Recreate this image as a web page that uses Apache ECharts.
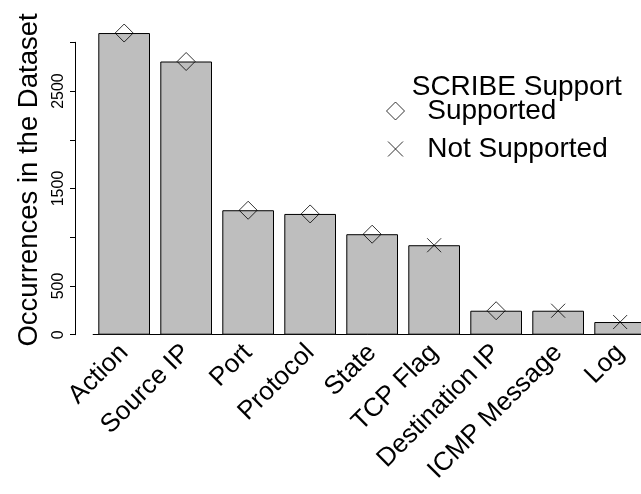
<!DOCTYPE html>
<html><head><meta charset="utf-8">
<script src="https://cdn.jsdelivr.net/npm/echarts@6/dist/echarts.min.js"></script>
<style>html,body{margin:0;padding:0;background:#fff}#c{width:641px;height:494px}</style>
</head><body><div id="c"></div>
<script>
const categories = ['Action', 'Source IP', 'Port', 'Protocol', 'State', 'TCP Flag', 'Destination IP', 'ICMP Message', 'Log'];
const occurrences = [3095, 2803, 1277, 1239, 1031, 918, 246, 246, 130];
const supported = [true, true, true, true, true, false, true, false, false];
const yTickValues = [0, 500, 1000, 1500, 2000, 2500, 3000];
const yTickLabels = ['0', '500', '', '1500', '', '2500', ''];
const legendTitle = 'SCRIBE Support';
const legendLabels = ['Supported', 'Not Supported'];
const yAxisTitle = 'Occurrences in the Dataset';

const FONT = '"Liberation Sans", Arial, Helvetica, sans-serif';
const supportedData = occurrences.map((v, i) => supported[i] ? v : null);
const notSupportedData = occurrences.map((v, i) => supported[i] ? null : v);
const crossPath = 'path://M0,0L14,14M14,0L0,14';
const crossLegend = 'path://M0,0M18,18M1.5,1.5L16.5,16.5M16.5,1.5L1.5,16.5';
const hollow = {color: 'transparent', borderColor: '#000', borderWidth: 1};

const chart = echarts.init(document.getElementById('c'), null, {renderer: 'canvas'});
chart.setOption({
  animation: false,
  backgroundColor: '#fff',
  textStyle: {fontFamily: FONT},
  title: {
    text: legendTitle, left: 411.7, top: 73, padding: 0,
    textStyle: {fontSize: 28, fontWeight: 'normal', color: '#000', fontFamily: FONT, lineHeight: 28}
  },
  legend: {
    orient: 'vertical', left: 386, top: 97, padding: 0,
    itemWidth: 18, itemHeight: 18, itemGap: 10,
    textStyle: {fontSize: 28, color: '#000', fontFamily: FONT, lineHeight: 28, padding: [0, 0, 0, 17.7]},
    data: [
      {name: legendLabels[0], icon: 'diamond', itemStyle: hollow},
      {name: legendLabels[1], icon: crossLegend, itemStyle: hollow}
    ]
  },
  grid: {left: 93.15, top: 42.3, width: 558, height: 292.4, containLabel: false, outerBoundsMode: 'none'},
  xAxis: {
    type: 'category', data: categories,
    axisTick: {show: false},
    axisLine: {show: true, lineStyle: {color: '#000', width: 1}},
    axisLabel: {rotate: 45, fontSize: 26, color: '#000', margin: 14, interval: 0, fontFamily: FONT,
                hideOverlap: false, padding: [6, 0, 0, 0]},
    splitLine: {show: false}
  },
  yAxis: {
    type: 'value', min: 0, max: 3000, interval: 500, offset: 18.15,
    axisLine: {show: true, lineStyle: {color: '#000', width: 1}},
    axisTick: {show: true, length: 5, lineStyle: {color: '#000'}},
    axisLabel: {
      rotate: 90, fontSize: 16, color: '#000', margin: 8, fontFamily: FONT,
      formatter: v => { const k = yTickValues.indexOf(v); return k >= 0 ? yTickLabels[k] : ''; }
    },
    splitLine: {show: false},
    name: yAxisTitle, nameLocation: 'middle', nameGap: 31,
    nameTextStyle: {fontSize: 27.5, color: '#000', fontFamily: FONT, padding: [0, 0, 0, 17]}
  },
  series: [
    {type: 'bar', data: occurrences, barWidth: 51.7, clip: false, silent: true,
     itemStyle: {color: '#bebebe', borderColor: '#000', borderWidth: 1}},
    {type: 'scatter', name: legendLabels[0], data: supportedData, symbol: 'diamond', symbolSize: 18, clip: false,
     itemStyle: hollow},
    {type: 'scatter', name: legendLabels[1], data: notSupportedData, symbol: crossPath, symbolSize: 14, clip: false,
     itemStyle: hollow}
  ]
});
</script></body></html>
